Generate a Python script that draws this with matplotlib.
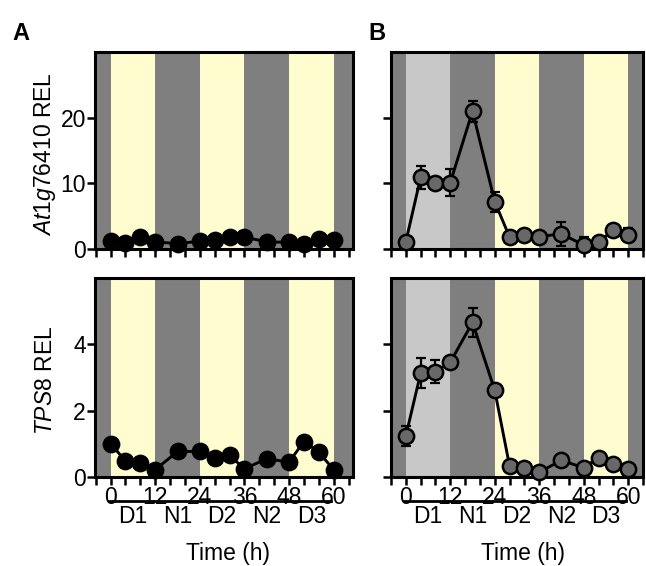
import matplotlib
matplotlib.use("Agg")
import matplotlib.pyplot as plt
import matplotlib.transforms as mtransforms

plt.rcParams["font.family"] = ["Liberation Sans", "DejaVu Sans"]
plt.rcParams["font.size"] = 16.5
plt.rcParams["mathtext.fontset"] = "custom"
plt.rcParams["mathtext.rm"] = "Liberation Sans"
plt.rcParams["mathtext.it"] = "Liberation Sans:italic"

# sampling times (h) and relative expression
time_h = [0, 4, 8, 12, 18, 24, 28, 32, 36, 42, 48, 52, 56, 60]

a_at1g = [1.2, 0.9, 1.8, 1.1, 0.8, 1.2, 1.3, 1.8, 1.8, 1.1, 1.0, 0.7, 1.5, 1.3]
a_at1g_err = [0.3, 0.3, 0.4, 0.3, 0.3, 0.3, 0.3, 0.3, 0.3, 0.3, 0.3, 0.5, 0.3, 0.3]
a_tps8 = [1.01, 0.48, 0.42, 0.22, 0.77, 0.77, 0.58, 0.65, 0.25, 0.55, 0.45, 1.07, 0.75, 0.22]
a_tps8_err = [0.05] * 14

b_at1g = [1.1, 10.9, 10.1, 10.1, 21.0, 7.2, 1.8, 2.1, 1.9, 2.3, 0.6, 1.0, 2.9, 2.2]
b_at1g_err = [0.5, 1.7, 0.8, 2.1, 1.6, 1.5, 0.5, 0.5, 0.5, 1.8, 1.2, 0.5, 0.6, 1.0]
b_tps8 = [1.24, 3.13, 3.18, 3.46, 4.66, 2.61, 0.33, 0.28, 0.15, 0.50, 0.28, 0.58, 0.40, 0.23]
b_tps8_err = [0.3, 0.45, 0.35, 0.1, 0.45, 0.1, 0.05, 0.05, 0.05, 0.05, 0.05, 0.05, 0.05, 0.05]

periods = ["D1", "N1", "D2", "N2", "D3"]
period_start = [0, 12, 24, 36, 48]

DARK = "#7f7f7f"
LIGHT = "#c8c8c8"
YELLOW = "#fffdcf"

W, H = 646, 566
fig = plt.figure(figsize=(W / 100, H / 100), dpi=100)


def px_axes(left, top, right, bottom):
    return fig.add_axes([left / W, 1 - bottom / H, (right - left) / W, (bottom - top) / H])


def shade(ax, first_day):
    ax.axvspan(-10, 0, color=DARK, lw=0, zorder=0)
    ax.axvspan(0, 12, color=first_day, lw=0, zorder=0)
    ax.axvspan(12, 24, color=DARK, lw=0, zorder=0)
    ax.axvspan(24, 36, color=YELLOW, lw=0, zorder=0)
    ax.axvspan(36, 48, color=DARK, lw=0, zorder=0)
    ax.axvspan(48, 60, color=YELLOW, lw=0, zorder=0)
    ax.axvspan(60, 70, color=DARK, lw=0, zorder=0)


def draw(ax, y, err, face, xlim, ylim, yticks, show_ylabels, bottom_row):
    shade(ax, YELLOW if face == "black" else LIGHT)
    ax.errorbar(time_h, y, yerr=err, fmt="none", ecolor="black",
                elinewidth=1.6, capsize=3.5, capthick=1.6, zorder=2)
    ax.plot(time_h, y, "-o", color="black", lw=2.1, ms=11,
            mfc=face, mec="black", mew=1.8, zorder=3, clip_on=False)
    ax.set_xlim(*xlim)
    ax.set_ylim(*ylim)
    ax.set_yticks(yticks)
    if not show_ylabels:
        ax.set_yticklabels([])
    ax.set_xticks(range(-4, 65, 4))
    if bottom_row:
        ax.set_xticklabels([str(t) if t >= 0 and t % 12 == 0 else "" for t in range(-4, 65, 4)])
    else:
        ax.set_xticklabels([])
    ax.tick_params(axis="both", direction="out", width=1.8, length=5.5, pad=1)
    for s in ax.spines.values():
        s.set_linewidth(2.2)
    if bottom_row:
        line_tr = mtransforms.offset_copy(ax.get_xaxis_transform(), fig=fig, y=-17.5, units="points")
        text_tr = mtransforms.offset_copy(ax.get_xaxis_transform(), fig=fig, y=-28.5, units="points")
        time_tr = mtransforms.offset_copy(ax.get_xaxis_transform(), fig=fig, y=-55, units="points")
        for name, start in zip(periods, period_start):
            ax.plot([start - 0.4, start + 11.3], [0, 0], color="black", lw=2,
                    transform=line_tr, clip_on=False)
            ax.text(start + 6, 0, name, transform=text_tr, ha="center", va="center")
        ax.text(31.5, 0, "Time (h)", transform=time_tr, ha="center", va="center")


ax_a1 = px_axes(95, 52, 353, 249)
ax_b1 = px_axes(391, 52, 643, 249)
ax_a2 = px_axes(95, 278, 353, 477)
ax_b2 = px_axes(391, 278, 643, 477)

draw(ax_a1, a_at1g, a_at1g_err, "black", (-4.2, 65.2), (0, 30), [0, 10, 20], True, False)
draw(ax_b1, b_at1g, b_at1g_err, "#686868", (-4, 63.8), (0, 30), [0, 10, 20], False, False)
draw(ax_a2, a_tps8, a_tps8_err, "black", (-4.2, 65.2), (0, 6), [0, 2, 4], True, True)
draw(ax_b2, b_tps8, b_tps8_err, "#686868", (-4, 63.8), (0, 6), [0, 2, 4], False, True)

# row labels, placed at a fixed column so both rows line up
fig.text(45 / W, 1 - 154 / H, r"$\it{At1g76410}$ REL", rotation=90, ha="center", va="center")
fig.text(45 / W, 1 - 380 / H, r"$\it{TPS8}$ REL", rotation=90, ha="center", va="center")

fig.text(12 / W, 1 - 40 / H, "A", fontsize=17, fontweight="bold")
fig.text(368 / W, 1 - 40 / H, "B", fontsize=17, fontweight="bold")

fig.savefig("out.png", dpi=100)
